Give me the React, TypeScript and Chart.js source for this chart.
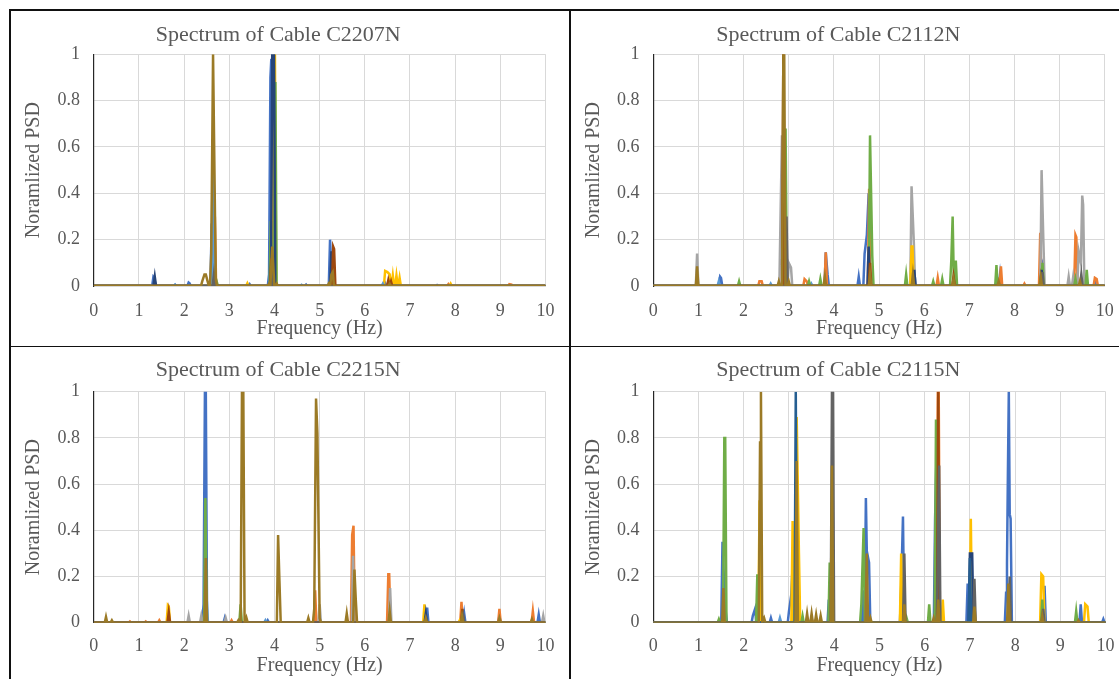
import React, { useEffect, useRef } from "react";
import { Chart, registerables } from "chart.js";

Chart.register(...registerables);

// ---------- DATA (peaks: [frequency Hz, normalized PSD]) ----------
const FREQ_MIN = 0;
const FREQ_MAX = 10;
const PSD_MIN = 0;
const PSD_MAX = 1;

const BLUE = "#4472C4", ORANGE = "#ED7D31", GRAY = "#A5A5A5", YELLOW = "#FFC000", LIGHTBLUE = "#5B9BD5", GREEN = "#70AD47";
const DARKBLUE = "#264478", DARKORANGE = "#9E480E", DARKGRAY = "#636363", DARKGOLD = "#9B7A26", TEAL = "#255E91";

// Cable C2207N
const c2207_s1 = [[1.32, 0.04], [1.34, 0.035], [1.8, 0.005], [2.1, 0.015], [2.12, 0.012], [2.61, 0.27], [3.45, 0.008], [3.88, 0.05], [3.91, 0.9], [3.93, 0.98], [4.7, 0.006], [5.23, 0.2], [5.25, 0.2], [6.45, 0.012], [7.6, 0.004]];
const c2207_s2 = [[2.68, 0.3], [3.97, 0.37], [6.55, 0.02], [7.85, 0.008], [9.2, 0.008], [9.25, 0.006]];
const c2207_s3 = [[2.64, 0.1], [3.98, 0.1], [5.3, 0.03]];
const c2207_s4 = [[3.4, 0.012], [3.99, 0.95], [4.01, 1.0], [6.45, 0.065], [6.5, 0.06], [6.55, 0.05], [6.62, 0.045], [6.7, 0.045], [6.77, 0.035], [7.9, 0.01]];
const c2207_s5 = [[1.8, 0.006], [2.63, 0.52], [4.6, 0.005], [6.4, 0.01]];
const c2207_s6 = [[2.72, 0.02], [3.92, 0.28], [4.02, 0.88], [5.28, 0.02]];
const c2207_s7 = [[1.35, 0.04], [3.95, 1.0], [3.97, 1.0], [3.99, 1.0], [5.26, 0.15]];
const c2207_s8 = [[3.93, 0.12], [5.3, 0.17], [5.32, 0.16], [6.52, 0.025], [6.58, 0.02]];
const c2207_s9 = [[2.66, 0.05], [3.96, 0.05]];
const c2207_s10 = [[2.4, 0.02], [2.45, 0.05], [2.48, 0.05], [2.52, 0.02], [2.6, 0.14], [2.64, 1.0], [2.66, 1.0], [2.7, 0.03], [3.88, 0.01], [3.95, 0.17], [3.97, 0.1], [4.05, 0.01], [5.2, 0.01], [5.26, 0.05], [5.29, 0.06], [6.55, 0.01]];

// Cable C2112N
const c2112_s1 = [[1.48, 0.04], [1.5, 0.035], [2.92, 0.5], [3.82, 0.145], [3.86, 0.05], [4.55, 0.04], [4.68, 0.14], [4.73, 0.22], [4.77, 0.4], [5.73, 0.09], [5.78, 0.07], [6.7, 0.02], [7.68, 0.05], [8.58, 0.12], [8.62, 0.1], [9.55, 0.02], [9.78, 0.02]];
const c2112_s2 = [[2.35, 0.02], [2.4, 0.02], [2.88, 0.25], [3.35, 0.03], [3.4, 0.02], [3.82, 0.145], [4.78, 0.42], [6.3, 0.035], [7.7, 0.085], [8.22, 0.01], [8.57, 0.23], [9.35, 0.22], [9.37, 0.21], [9.78, 0.035], [9.82, 0.03]];
const c2112_s3 = [[0.97, 0.14], [2.82, 0.32], [2.85, 0.65], [3.0, 0.1], [3.05, 0.08], [5.72, 0.43], [5.77, 0.19], [8.6, 0.5], [8.64, 0.19], [9.2, 0.04], [9.3, 0.04], [9.42, 0.15], [9.47, 0.1], [9.5, 0.39], [9.52, 0.35]];
const c2112_s4 = [[2.9, 0.1], [5.72, 0.17], [5.74, 0.17]];
const c2112_s5 = [[1.45, 0.02], [2.6, 0.01], [3.5, 0.01]];
const c2112_s6 = [[1.9, 0.02], [2.93, 0.68], [3.45, 0.02], [3.7, 0.03], [4.8, 0.65], [4.82, 0.65], [4.85, 0.13], [5.6, 0.05], [6.2, 0.02], [6.4, 0.03], [6.6, 0.11], [6.63, 0.3], [6.7, 0.11], [7.6, 0.09], [8.62, 0.1], [9.35, 0.03], [9.6, 0.07]];
const c2112_s7 = [[2.91, 0.2], [4.77, 0.17], [5.78, 0.07], [8.6, 0.07]];
const c2112_s8 = [[2.88, 1.0], [4.8, 0.1], [6.65, 0.04]];
const c2112_s9 = [[2.95, 0.3], [8.62, 0.06], [9.48, 0.05]];
const c2112_s10 = [[0.97, 0.085], [2.78, 0.02], [2.88, 1.0], [2.9, 1.0], [3.0, 0.02], [3.8, 0.04], [4.8, 0.05], [5.75, 0.05], [6.65, 0.03], [7.65, 0.02], [8.58, 0.04], [9.45, 0.02]];

// Cable C2215N
const c2215_s1 = [[2.43, 0.08], [2.46, 1.0], [2.48, 1.0], [2.9, 0.02], [3.85, 0.01], [7.38, 0.065], [8.2, 0.04], [8.98, 0.03], [9.85, 0.035]];
const c2215_s2 = [[0.8, 0.005], [1.15, 0.005], [1.45, 0.01], [3.05, 0.01], [4.9, 0.14], [5.72, 0.38], [5.75, 0.42], [6.52, 0.21], [6.54, 0.21], [8.14, 0.09], [8.98, 0.06], [9.72, 0.05]];
const c2215_s3 = [[2.1, 0.03], [2.38, 0.03], [2.92, 0.02], [5.0, 0.08], [5.74, 0.29], [6.56, 0.15], [9.95, 0.03]];
const c2215_s4 = [[1.64, 0.075], [1.66, 0.07], [7.32, 0.08], [8.1, 0.01]];
const c2215_s5 = [[2.5, 0.1], [3.8, 0.01]];
const c2215_s6 = [[2.47, 0.54], [3.25, 0.08]];
const c2215_s7 = [[7.35, 0.04]];
const c2215_s8 = [[1.66, 0.045], [8.16, 0.06]];
const c2215_s9 = [[8.18, 0.03]];
const c2215_s10 = [[0.27, 0.025], [0.4, 0.01], [2.48, 0.28], [3.2, 0.01], [3.28, 1.0], [3.31, 1.0], [3.38, 0.02], [4.08, 0.38], [4.11, 0.18], [4.75, 0.02], [4.88, 0.06], [4.92, 0.97], [4.95, 0.82], [5.0, 0.02], [5.6, 0.04], [5.77, 0.23], [5.8, 0.1], [6.55, 0.05], [7.35, 0.02], [8.15, 0.03], [8.98, 0.02], [9.7, 0.015]];

// Cable C2115N
const c2115_s1 = [[1.53, 0.35], [1.55, 0.24], [1.6, 0.05], [2.2, 0.03], [2.25, 0.06], [2.33, 0.12], [2.6, 0.02], [3.0, 0.05], [3.05, 0.12], [3.1, 0.33], [3.88, 0.1], [4.63, 0.14], [4.7, 0.54], [4.72, 0.31], [4.77, 0.26], [5.48, 0.15], [5.52, 0.46], [6.23, 0.45], [6.27, 0.8], [6.95, 0.17], [7.8, 0.13], [7.82, 0.26], [7.84, 0.65], [7.86, 1.0], [7.88, 0.47], [7.9, 0.45], [8.65, 0.16], [9.45, 0.08], [9.95, 0.015]];
const c2115_s2 = [[3.12, 0.12], [5.5, 0.12], [6.29, 1.0], [6.31, 1.0]];
const c2115_s3 = [[3.5, 0.02]];
const c2115_s4 = [[2.35, 0.53], [3.08, 0.44], [3.17, 0.89], [3.22, 0.3], [5.48, 0.3], [6.4, 0.1], [7.02, 0.45], [8.58, 0.21], [8.62, 0.2], [9.55, 0.08], [9.6, 0.07]];
const c2115_s5 = [[2.8, 0.02]];
const c2115_s6 = [[1.45, 0.015], [1.57, 0.8], [1.59, 0.8], [2.3, 0.21], [3.3, 0.03], [3.9, 0.26], [4.6, 0.08], [4.65, 0.41], [5.6, 0.02], [6.1, 0.08], [6.25, 0.88], [8.6, 0.1], [9.35, 0.05]];
const c2115_s7 = [[7.0, 0.3], [7.05, 0.3]];
const c2115_s8 = [[6.3, 1.0]];
const c2115_s9 = [[3.95, 1.0], [3.97, 1.0], [5.55, 0.3], [6.3, 0.48], [6.32, 0.68], [7.1, 0.19], [7.88, 0.2], [8.62, 0.06]];
const c2115_s10 = [[3.15, 1.0], [7.0, 0.28]];
const c2115_s11 = [[1.55, 0.15], [2.36, 0.78], [2.38, 1.0], [2.45, 0.02], [3.17, 0.7], [3.4, 0.04], [3.5, 0.04], [3.6, 0.035], [3.7, 0.03], [3.95, 0.68], [4.72, 0.3], [4.8, 0.02], [5.55, 0.08], [6.2, 0.02], [6.3, 0.1], [7.1, 0.07], [7.85, 0.17], [8.6, 0.03], [9.4, 0.01]];

const TITLES = ["Spectrum of Cable C2207N", "Spectrum of Cable C2112N", "Spectrum of Cable C2215N", "Spectrum of Cable C2115N"];
const X_TITLE = "Frequency (Hz)";
const Y_TITLE = "Noramlized PSD";

const COLORS_10 = [BLUE, ORANGE, GRAY, YELLOW, LIGHTBLUE, GREEN, DARKBLUE, DARKORANGE, DARKGRAY, DARKGOLD];
const COLORS_11 = [BLUE, ORANGE, GRAY, YELLOW, LIGHTBLUE, GREEN, DARKBLUE, DARKORANGE, DARKGRAY, TEAL, DARKGOLD];

const PANEL_SERIES = [
  [c2207_s1, c2207_s2, c2207_s3, c2207_s4, c2207_s5, c2207_s6, c2207_s7, c2207_s8, c2207_s9, c2207_s10],
  [c2112_s1, c2112_s2, c2112_s3, c2112_s4, c2112_s5, c2112_s6, c2112_s7, c2112_s8, c2112_s9, c2112_s10],
  [c2215_s1, c2215_s2, c2215_s3, c2215_s4, c2215_s5, c2215_s6, c2215_s7, c2215_s8, c2215_s9, c2215_s10],
  [c2115_s1, c2115_s2, c2115_s3, c2115_s4, c2115_s5, c2115_s6, c2115_s7, c2115_s8, c2115_s9, c2115_s10, c2115_s11],
];
const PANEL_COLORS = [COLORS_10, COLORS_10, COLORS_10, COLORS_11];

// ---------- LAYOUT / STYLE ----------
const FONT = "'Liberation Serif', 'Times New Roman', serif";
const TEXT = "#595959";
const GRID = "#d9d9d9";
const SPIKE_HALF_WIDTH = 0.028;

type Layout = { left: number; top: number; width: number; height: number; plotLeft: number; plotTop: number; plotRight: number; plotBottom: number; titlePadTop: number; xTitlePadBottom: number; xTickPad: number };

const LAYOUTS: Layout[] = [
  { left: 11, top: 11, width: 558, height: 335, plotLeft: 82.8, plotTop: 43.3, plotRight: 534.5, plotBottom: 275, titlePadTop: 11.3, xTitlePadBottom: 5, xTickPad: 14.2 },
  { left: 571, top: 11, width: 557, height: 335, plotLeft: 82.3, plotTop: 43.3, plotRight: 534.6, plotBottom: 275, titlePadTop: 11.3, xTitlePadBottom: 5, xTickPad: 14.2 },
  { left: 11, top: 348, width: 558, height: 331, plotLeft: 82.8, plotTop: 43.7, plotRight: 534.5, plotBottom: 274.7, titlePadTop: 9.3, xTitlePadBottom: 1.5, xTickPad: 13.2 },
  { left: 571, top: 348, width: 557, height: 331, plotLeft: 82.3, plotTop: 43.7, plotRight: 534.6, plotBottom: 274.7, titlePadTop: 9.3, xTitlePadBottom: 1.5, xTickPad: 13.2 },
];

function spectrumPoints(peaks: number[][]) {
  const p = [...peaks].sort((a, b) => a[0] - b[0]);
  const pts: { x: number; y: number }[] = [{ x: FREQ_MIN, y: 0 }];
  for (let i = 0; i < p.length; i++) {
    const [f, h] = p[i];
    if (i === 0 || f - p[i - 1][0] > 2 * SPIKE_HALF_WIDTH) pts.push({ x: f - SPIKE_HALF_WIDTH, y: 0 });
    pts.push({ x: f, y: h });
    if (i === p.length - 1 || p[i + 1][0] - f > 2 * SPIKE_HALF_WIDTH) pts.push({ x: f + SPIKE_HALF_WIDTH, y: 0 });
  }
  pts.push({ x: FREQ_MAX, y: 0 });
  return pts;
}

function Panel({ idx }: { idx: number }) {
  const ref = useRef<HTMLCanvasElement>(null);
  const L = LAYOUTS[idx];
  useEffect(() => {
    if (!ref.current) return;
    const series = PANEL_SERIES[idx];
    const colors = PANEL_COLORS[idx];
    const titleFont = { family: FONT, size: 22, weight: "normal" as const, lineHeight: 1.2 };
    const axisTitleFont = { family: FONT, size: 20, weight: "normal" as const, lineHeight: 1.2 };
    const tickFont = { family: FONT, size: 18, weight: "normal" as const, lineHeight: 1.2 };
    const titlePadBottom = L.plotTop - L.titlePadTop - 22 * 1.2;
    const chart = new Chart(ref.current, {
      type: "line",
      data: {
        datasets: series.map((s, i) => ({
          label: "S" + (i + 1),
          data: spectrumPoints(s),
          borderColor: colors[i],
          backgroundColor: colors[i],
          borderWidth: 2.5,
          pointRadius: 0,
          fill: false,
          tension: 0,
          order: -i,
        })),
      },
      options: {
        animation: false,
        responsive: false,
        events: [],
        layout: { padding: { left: 0, top: 0, bottom: 0, right: L.width - L.plotRight } },
        plugins: {
          legend: { display: false },
          tooltip: { enabled: false },
          title: {
            display: true,
            text: TITLES[idx],
            color: TEXT,
            font: titleFont,
            padding: { top: L.titlePadTop, bottom: titlePadBottom },
          },
        },
        scales: {
          x: {
            type: "linear",
            min: FREQ_MIN,
            max: FREQ_MAX,
            ticks: { stepSize: 1, color: TEXT, font: tickFont, padding: L.xTickPad, maxRotation: 0, autoSkip: false },
            grid: { color: GRID, lineWidth: 1, drawTicks: false },
            border: { color: GRID, width: 1 },
            title: { display: true, text: X_TITLE, color: TEXT, font: axisTitleFont, padding: { top: 0, bottom: L.xTitlePadBottom } },
            afterFit: (s: any) => { s.height = L.height - L.plotBottom; },
          },
          y: {
            type: "linear",
            min: PSD_MIN,
            max: PSD_MAX,
            ticks: {
              stepSize: 0.2, color: TEXT, font: tickFont, padding: 13.8,
              callback: (v: any) => String(Number(Number(v).toFixed(2))),
            },
            grid: { color: GRID, lineWidth: 1, drawTicks: false },
            border: { color: "#262626", width: 1.2 },
            title: { display: true, text: Y_TITLE, color: TEXT, font: axisTitleFont, padding: { top: 10.4, bottom: 0 } },
            afterFit: (s: any) => { s.width = L.plotLeft; },
          },
        },
      },
    } as any);
    return () => chart.destroy();
  }, [idx]);
  return (
    <div style={{ position: "absolute", left: L.left, top: L.top, width: L.width, height: L.height }}>
      <canvas ref={ref} width={L.width} height={L.height} style={{ width: L.width, height: L.height, display: "block" }} />
    </div>
  );
}

const LINE = "#111";

export default function App() {
  return (
    <div style={{ position: "absolute", left: 0, top: 0, width: 1119, height: 679, overflow: "hidden", background: "#fff" }}>
      {[0, 1, 2, 3].map((i) => <Panel key={i} idx={i} />)}
      <div style={{ position: "absolute", left: 9, top: 9, width: 1.6, height: 670, background: LINE }} />
      <div style={{ position: "absolute", left: 569, top: 9, width: 1.6, height: 670, background: LINE }} />
      <div style={{ position: "absolute", left: 9, top: 9, width: 1110, height: 1.6, background: LINE }} />
      <div style={{ position: "absolute", left: 9, top: 345.8, width: 1110, height: 1.6, background: LINE }} />
    </div>
  );
}
